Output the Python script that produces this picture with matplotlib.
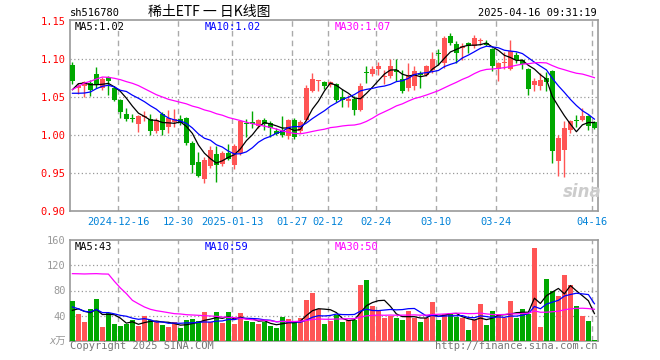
"""
稀土ETF (sh516780) daily K-line chart with volume, Sina style
"""

import matplotlib
matplotlib.use('Agg')
from matplotlib import pyplot as plt
import numpy as np
import pandas as pd

# daily bars 2024-12-04 .. 2025-04-16
opens = [1.0925, 1.0614, 1.0640, 1.0684, 1.0807, 1.0618, 1.0763, 1.0618, 1.0456, 1.0280,
         1.0224, 1.0149, 1.0242, 1.0215, 1.0048, 1.0276, 1.0100, 1.0167, 1.0211, 1.0220,
         0.9895, 0.9640, 0.9421, 0.9596, 0.9746, 0.9623, 0.9763, 0.9610, 0.9763, 1.0149,
         1.0165, 1.0123, 1.0202, 1.0158, 1.0057, 1.0070, 0.9991, 1.0202, 1.0057, 1.0202,
         1.0575, 1.0715, 1.0697, 1.0653, 1.0671, 1.0500, 1.0450, 1.0478, 1.0325, 1.0818,
         1.0807, 1.0868, 1.0760, 1.0772, 1.0860, 1.0737, 1.0618, 1.0640, 1.0815, 1.0794,
         1.0860, 1.1068, 1.0947, 1.1307, 1.1202, 1.1145, 1.1210, 1.1175, 1.1243, 1.1210,
         1.1132, 1.0868, 1.0945, 1.0868, 1.1057, 1.0990, 1.0868, 1.0653, 1.0649, 1.0750,
         1.0838, 0.9653, 0.9807, 1.0061, 1.0193, 1.0193, 1.0246, 1.0167]
highs = [1.0956, 1.0680, 1.0715, 1.0728, 1.0890, 1.0763, 1.0770, 1.0640, 1.0474, 1.0355,
         1.0280, 1.0268, 1.0320, 1.0280, 1.0224, 1.0298, 1.0333, 1.0342, 1.0268, 1.0232,
         0.9917, 0.9780, 0.9710, 0.9850, 0.9859, 0.9794, 0.9886, 0.9886, 1.0202, 1.0210,
         1.0310, 1.0215, 1.0220, 1.0189, 1.0088, 1.0254, 1.0215, 1.0220, 1.0202, 1.0662,
         1.0816, 1.0728, 1.0715, 1.0706, 1.0684, 1.0600, 1.0530, 1.0509, 1.0684, 1.0903,
         1.0903, 1.0965, 1.0860, 1.1000, 1.1000, 1.0860, 1.0947, 1.0903, 1.0838, 1.0925,
         1.1088, 1.1132, 1.1298, 1.1342, 1.1232, 1.1210, 1.1219, 1.1320, 1.1276, 1.1254,
         1.1145, 1.0956, 1.1088, 1.1245, 1.1088, 1.1000, 1.0882, 1.0750, 1.0816, 1.0825,
         1.0860, 1.0004, 1.0180, 1.0202, 1.0268, 1.0355, 1.0268, 1.0180]
lows = [1.0675, 1.0540, 1.0500, 1.0509, 1.0618, 1.0588, 1.0530, 1.0443, 1.0224, 1.0189,
        1.0167, 1.0035, 1.0180, 1.0004, 1.0031, 1.0004, 1.0026, 1.0105, 1.0136, 0.9873,
        0.9500, 0.9447, 0.9368, 0.9566, 0.9386, 0.9588, 0.9675, 0.9557, 0.9741, 0.9980,
        1.0090, 1.0092, 1.0070, 0.9980, 1.0004, 0.9974, 0.9952, 0.9947, 1.0026, 1.0180,
        1.0561, 1.0575, 1.0605, 1.0630, 1.0430, 1.0370, 1.0370, 1.0268, 1.0311, 1.0684,
        1.0772, 1.0794, 1.0675, 1.0750, 1.0706, 1.0553, 1.0575, 1.0596, 1.0618, 1.0772,
        1.0816, 1.0925, 1.0882, 1.1189, 1.0947, 1.0991, 1.1079, 1.1145, 1.1190, 1.1167,
        1.0838, 1.0715, 1.0868, 1.0860, 1.0947, 1.0868, 1.0531, 1.0575, 1.0596, 1.0575,
        0.9632, 0.9456, 0.9447, 1.0026, 1.0105, 1.0180, 1.0070, 1.0079]
closes = [1.0706, 1.0649, 1.0693, 1.0596, 1.0662, 1.0737, 1.0706, 1.0465, 1.0298, 1.0215,
          1.0215, 1.0246, 1.0246, 1.0057, 1.0202, 1.0070, 1.0224, 1.0215, 1.0158, 0.9895,
          0.9610, 0.9465, 0.9675, 0.9798, 0.9605, 0.9763, 0.9689, 0.9851, 1.0180, 1.0145,
          1.0150, 1.0193, 1.0149, 1.0092, 1.0018, 1.0004, 1.0202, 0.9974, 1.0171, 1.0618,
          1.0737, 1.0720, 1.0649, 1.0693, 1.0465, 1.0460, 1.0478, 1.0333, 1.0649, 1.0815,
          1.0868, 1.0912, 1.0765, 1.0912, 1.0833, 1.0575, 1.0794, 1.0838, 1.0794, 1.0912,
          1.1000, 1.1064, 1.1276, 1.1210, 1.1079, 1.1175, 1.1167, 1.1276, 1.1245, 1.1189,
          1.0912, 1.0947, 1.0950, 1.1101, 1.0991, 1.0934, 1.0605, 1.0706, 1.0728, 1.0693,
          0.9794, 0.9960, 1.0092, 1.0180, 1.0189, 1.0246, 1.0114, 1.0092]
volumes = [62.8, 42.2, 29.6, 50.2, 66.0, 21.6, 43.8, 26.4, 23.2, 26.4,
           32.7, 23.8, 39.6, 32.7, 29.6, 24.8, 21.6, 29.6, 20.0, 32.7,
           34.3, 31.2, 45.4, 29.6, 45.4, 28.0, 45.4, 26.4, 43.8, 31.2,
           29.6, 26.4, 29.6, 23.2, 20.0, 37.5, 34.3, 29.6, 35.9, 64.4,
           75.5, 50.2, 26.4, 31.2, 41.7, 29.6, 32.7, 32.7, 88.2, 96.1,
           54.9, 47.5, 35.9, 40.1, 35.9, 33.8, 47.0, 35.9, 29.6, 35.9,
           62.0, 32.7, 43.0, 43.0, 37.5, 35.9, 16.9, 32.7, 59.0, 24.8,
           47.0, 41.7, 35.9, 64.0, 35.9, 50.0, 42.2, 147.0, 22.2, 97.7,
           78.7, 70.8, 104.0, 88.0, 56.0, 40.0, 31.0, 2.0]

# MA values before the window is full (history not shown)
ma5_head = [1.0596, 1.0675, 1.0684, 1.0662]
ma10_head = [1.0549, 1.0549, 1.0552, 1.0566, 1.0610, 1.0641, 1.0654, 1.0632, 1.0588]
ma30_head = [1.0596, 1.0640, 1.0684, 1.0706, 1.0737, 1.0763, 1.0759, 1.0746, 1.0728, 1.0702,
             1.0680, 1.0650, 1.0610, 1.0570, 1.0530, 1.0500, 1.0470, 1.0450, 1.0430, 1.0410,
             1.0380, 1.0360, 1.0330, 1.0310, 1.0280, 1.0260, 1.0230, 1.0210, 1.0190]
vma5_head = [48.6, 51.0, 47.0, 44.9]
vma10_head = [53.9, 51.0, 47.0, 46.0, 50.0, 45.0, 45.0, 43.0, 40.6]
vma30_head = [106.7, 106.5, 106.2, 106.5, 106.7, 106.2, 106.0, 94.5, 84.0, 75.0,
              64.4, 59.0, 53.9, 50.2, 48.0, 46.5, 44.9, 43.3, 42.8, 41.7,
              41.2, 40.7, 40.1, 39.6, 39.1, 38.0, 37.5, 37.0, 35.9]

date_labels = ['2024-12-16', '12-30', '2025-01-13', '01-27', '02-12',
               '02-24', '03-10', '03-24', '04-16']
date_idx = [8, 18, 27, 37, 43, 51, 61, 71, 87]
price_ticks = [0.90, 0.95, 1.00, 1.05, 1.10, 1.15]
vol_ticks = [0, 40, 80, 120, 160]
vol_tick_labels = ['x万', '40', '80', '120', '160']

price_ma_text = ['MA5:1.02', 'MA10:1.02', 'MA30:1.07']
vol_ma_text = ['MA5:43', 'MA10:59', 'MA30:50']

RED = '#ff5555'
GREEN = '#00a800'
MA_COLORS = ['black', '#0000ff', '#ff00ff']
MONO = ['DejaVu Sans Mono', 'Noto Sans CJK SC']


def moving_avg(values, n, head):
    ma = pd.Series(values).rolling(n).mean().to_numpy()
    ma[:len(head)] = head
    return ma


W, H = 660, 360


def fx(px):
    return px / W


def fy(py):
    return 1 - py / H


fig = plt.figure(figsize=(6.6, 3.6), dpi=100)
ax = fig.add_axes([fx(70), fy(211), (598 - 70) / W, (211 - 20) / H])
axv = fig.add_axes([fx(70), fy(341), (598 - 70) / W, (341 - 240) / H])

o = np.array(opens)
c = np.array(closes)
x = np.arange(len(closes))
up = c >= o
colors = np.where(up, RED, GREEN)

# candles
ax.vlines(x, lows, highs, colors=colors, lw=1, zorder=2)
body_low = np.minimum(o, c)
body_h = np.maximum(np.abs(c - o), 0.0013)
ax.bar(x, body_h, bottom=body_low, width=0.72, color=colors, lw=0, zorder=3)

ma_price = [moving_avg(closes, 5, ma5_head), moving_avg(closes, 10, ma10_head),
            moving_avg(closes, 30, ma30_head)]
for ma, col in zip(ma_price, MA_COLORS):
    ax.plot(x, ma, color=col, lw=0.9, zorder=4)

# volume
axv.bar(x, volumes, width=0.78, color=colors, lw=0, zorder=3)
ma_vol = [moving_avg(volumes, 5, vma5_head), moving_avg(volumes, 10, vma10_head),
          moving_avg(volumes, 30, vma30_head)]
for ma, col in zip(ma_vol, MA_COLORS):
    axv.plot(x, ma, color=col, lw=0.9, zorder=4)

grid_x = [i - 0.33 for i in date_idx]
for a in (ax, axv):
    a.set_xlim(-0.4, 87.6)
    for gx in grid_x:
        a.axvline(gx, color='#aaaaaa', lw=1, dashes=(4, 3), zorder=1)
    for s in a.spines.values():
        s.set_color('#999999')
        s.set_linewidth(1.2)
    a.tick_params(length=0)

ax.set_ylim(0.90, 1.1513)
for v in price_ticks[1:-1]:
    ax.axhline(v, color='#999999', lw=0.9, ls=(0, (1, 2)), zorder=1)
ax.set_yticks(price_ticks)
ax.set_yticklabels(['%.2f' % v for v in price_ticks], color='red',
                   fontsize=7.5, family=MONO)
ax.tick_params(axis='y', pad=3)
ax.set_xticks(grid_x)
ax.set_xticklabels(date_labels, color='#0082d8', fontsize=7.5, family=MONO)
ax.tick_params(axis='x', pad=4)

axv.set_ylim(0, 160)
for v in vol_ticks[1:-1]:
    axv.axhline(v, color='#999999', lw=0.9, ls=(0, (1, 2)), zorder=1)
axv.set_yticks(vol_ticks)
axv.set_yticklabels(vol_tick_labels, color='#999999', fontsize=7.5, family=MONO)
axv.get_yticklabels()[0].set_style('italic')
axv.tick_params(axis='y', pad=3)
axv.set_xticks([])

# header texts
fig.text(fx(209), fy(12), '稀土ETF 一 日K线图', ha='center', va='center',
         fontsize=10, family=['Noto Sans CJK SC', 'DejaVu Sans'])
fig.text(fx(70), fy(13), 'sh516780', ha='left', va='center', fontsize=7.5, family=MONO)
fig.text(fx(597), fy(13), '2025-04-16 09:31:19', ha='right', va='center',
         fontsize=7.5, family=MONO)

for txt, col, px in zip(price_ma_text, MA_COLORS, [75, 205, 335]):
    fig.text(fx(px), fy(26.5), txt, color=col, ha='left', va='center',
             fontsize=7.5, family=MONO)
for txt, col, px in zip(vol_ma_text, MA_COLORS, [75, 205, 335]):
    fig.text(fx(px), fy(247), txt, color=col, ha='left', va='center',
             fontsize=7.5, family=MONO)

fig.text(fx(70), fy(346), 'Copyright 2025 SINA.COM', color='#777777', ha='left',
         va='center', fontsize=7.5, family=MONO)
fig.text(fx(597), fy(346), 'http://finance.sina.com.cn', color='#777777', ha='right',
         va='center', fontsize=7.5, family=MONO)

# watermark
fig.text(fx(582), fy(192), 'sina', color='#cccccc', ha='center', va='center',
         fontsize=12, fontweight='bold', style='italic', zorder=0)

fig.savefig('out.png', dpi=100)
